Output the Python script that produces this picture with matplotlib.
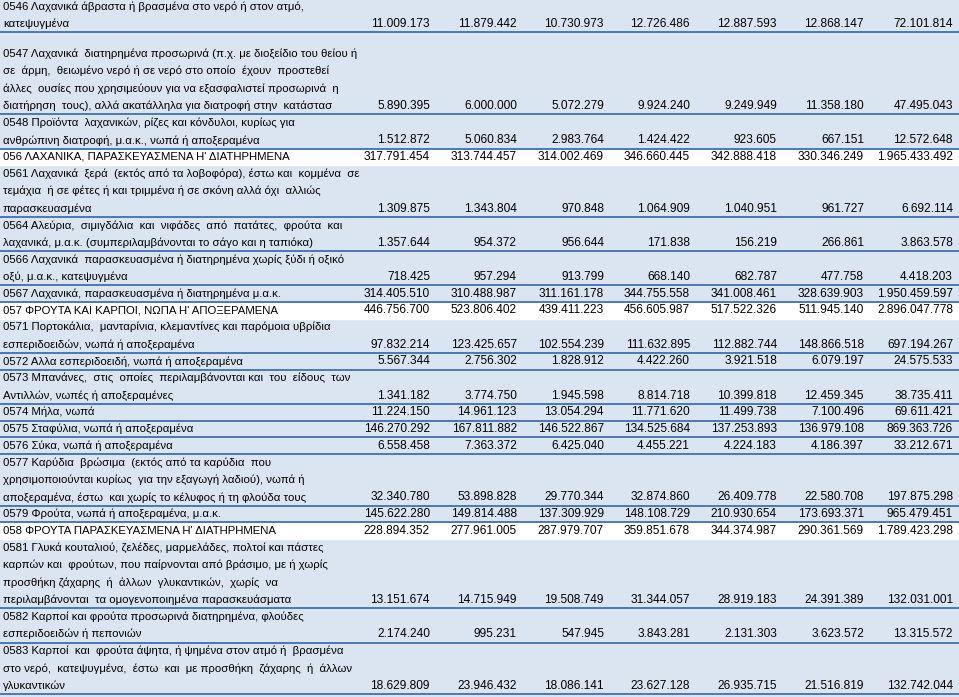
import matplotlib.pyplot as plt

# row labels (one string per row, lines split with \n)
labels = [
    "0546 Λαχανικά άβραστα ή βρασμένα στο νερό ή στον ατμό,\nκατεψυγμένα",
    "0547 Λαχανικά  διατηρημένα προσωρινά (π.χ. με διοξείδιο του θείου ή\n"
    "σε  άρμη,  θειωμένο νερό ή σε νερό στο οποίο  έχουν  προστεθεί\n"
    "άλλες  ουσίες που χρησιμεύουν για να εξασφαλιστεί προσωρινά  η\n"
    "διατήρηση  τους), αλλά ακατάλληλα για διατροφή στην  κατάστασ",
    "0548 Προϊόντα  λαχανικών, ρίζες και κόνδυλοι, κυρίως για\n"
    "ανθρώπινη διατροφή, μ.α.κ., νωπά ή αποξεραμένα",
    "056 ΛΑΧΑΝΙΚΑ, ΠΑΡΑΣΚΕΥΑΣΜΕΝΑ Η' ΔΙΑΤΗΡΗΜΕΝΑ",
    "0561 Λαχανικά  ξερά  (εκτός από τα λοβοφόρα), έστω και  κομμένα  σε\n"
    "τεμάχια  ή σε φέτες ή και τριμμένα ή σε σκόνη αλλά όχι  αλλιώς\n"
    "παρασκευασμένα",
    "0564 Αλεύρια,  σιμιγδάλια  και  νιφάδες  από  πατάτες,  φρούτα  και\n"
    "λαχανικά, μ.α.κ. (συμπεριλαμβάνονται το σάγο και η ταπιόκα)",
    "0566 Λαχανικά  παρασκευασμένα ή διατηρημένα χωρίς ξύδι ή οξικό\n"
    "οξύ, μ.α.κ., κατεψυγμένα",
    "0567 Λαχανικά, παρασκευασμένα ή διατηρημένα μ.α.κ.",
    "057 ΦΡΟΥΤΑ ΚΑΙ ΚΑΡΠΟΙ, ΝΩΠΑ Η' ΑΠΟΞΕΡΑΜΕΝΑ",
    "0571 Πορτοκάλια,  μανταρίνια, κλεμαντίνες και παρόμοια υβρίδια\n"
    "εσπεριδοειδών, νωπά ή αποξεραμένα",
    "0572 Αλλα εσπεριδοειδή, νωπά ή αποξεραμένα",
    "0573 Μπανάνες,  στις  οποίες  περιλαμβάνονται και  του  είδους  των\n"
    "Αντιλλών, νωπές ή αποξεραμένες",
    "0574 Μήλα, νωπά",
    "0575 Σταφύλια, νωπά ή αποξεραμένα",
    "0576 Σύκα, νωπά ή αποξεραμένα",
    "0577 Καρύδια  βρώσιμα  (εκτός από τα καρύδια  που\n"
    "χρησιμοποιούνται κυρίως  για την εξαγωγή λαδιού), νωπά ή\n"
    "αποξεραμένα, έστω  και χωρίς το κέλυφος ή τη φλούδα τους",
    "0579 Φρούτα, νωπά ή αποξεραμένα, μ.α.κ.",
    "058 ΦΡΟΥΤΑ ΠΑΡΑΣΚΕΥΑΣΜΕΝΑ Η' ΔΙΑΤΗΡΗΜΕΝΑ",
    "0581 Γλυκά κουταλιού, ζελέδες, μαρμελάδες, πολτοί και πάστες\n"
    "καρπών και  φρούτων, που παίρνονται από βράσιμο, με ή χωρίς\n"
    "προσθήκη ζάχαρης  ή  άλλων  γλυκαντικών,  χωρίς  να\n"
    "περιλαμβάνονται  τα ομογενοποιημένα παρασκευάσματα",
    "0582 Καρποί και φρούτα προσωρινά διατηρημένα, φλούδες\n"
    "εσπεριδοειδών ή πεπονιών",
    "0583 Καρποί  και  φρούτα άψητα, ή ψημένα στον ατμό ή  βρασμένα\n"
    "στο νερό,  κατεψυγμένα,  έστω  και  με προσθήκη  ζάχαρης  ή  άλλων\n"
    "γλυκαντικών",
]

# group (2-digit) rows get a white background
groups = ["056", "057", "058"]

y1 = [11009173, 5890395, 1512872, 317791454, 1309875, 1357644, 718425, 314405510,
      446756700, 97832214, 5567344, 1341182, 11224150, 146270292, 6558458, 32340780,
      145622280, 228894352, 13151674, 2174240, 18629809]
y2 = [11879442, 6000000, 5060834, 313744457, 1343804, 954372, 957294, 310488987,
      523806402, 123425657, 2756302, 3774750, 14961123, 167811882, 7363372, 53898828,
      149814488, 277961005, 14715949, 995231, 23946432]
y3 = [10730973, 5072279, 2983764, 314002469, 970848, 956644, 913799, 311161178,
      439411223, 102554239, 1828912, 1945598, 13054294, 146522867, 6425040, 29770344,
      137309929, 287979707, 19508749, 547945, 18086141]
y4 = [12726486, 9924240, 1424422, 346660445, 1064909, 171838, 668140, 344755558,
      456605987, 111632895, 4422260, 8814718, 11771620, 134525684, 4455221, 32874860,
      148108729, 359851678, 31344057, 3843281, 23627128]
y5 = [12887593, 9249949, 923605, 342888418, 1040951, 156219, 682787, 341008461,
      517522326, 112882744, 3921518, 10399818, 11499738, 137253893, 4224183, 26409778,
      210930654, 344374987, 28919183, 2131303, 26935715]
y6 = [12868147, 11358180, 667151, 330346249, 961727, 266861, 477758, 328639903,
      511945140, 148866518, 6079197, 12459345, 7100496, 136979108, 4186397, 22580708,
      173693371, 290361569, 24391389, 3623572, 21516819]
total = [72101814, 47495043, 12572648, 1965433492, 6692114, 3863578, 4418203, 1950459597,
         2896047778, 697194267, 24575533, 38735411, 69611421, 869363726, 33212671, 197875298,
         965479451, 1789423298, 132031001, 13315572, 132742044]

columns = [y1, y2, y3, y4, y5, y6, total]
col_right = [430, 517, 604, 690, 777, 864, 953]

BG = '#dbe5f1'
LINE = '#4a78b8'
FS_LAB = 8.2
FS_NUM = 8.6
LINE_H = 17.5
PAD = 16.7

fig = plt.figure(figsize=(9.59, 6.97), dpi=100)
fig.patch.set_facecolor(BG)
ax = fig.add_axes([0, 0, 1, 1])
ax.set_facecolor(BG)
ax.set_xlim(0, 959)
ax.set_ylim(697, 0)
ax.axis('off')


def fmt(v):
    return f"{v:,}".replace(',', '.')


y = -2
for i, lab in enumerate(labels):
    lines = lab.split('\n')
    h = PAD + LINE_H * (len(lines) - 1)
    is_group = lab.split(' ')[0] in groups
    if is_group:
        ax.axhspan(y, y + h, color='white', zorder=0)
    for k, ln in enumerate(lines):
        ax.text(3, y + PAD / 2 + k * LINE_H, ln, fontsize=FS_LAB, family='Liberation Sans',
                va='center', ha='left', color='black')
    yv = y + PAD / 2 + (len(lines) - 1) * LINE_H
    for col, xr in zip(columns, col_right):
        ax.text(xr, yv, fmt(col[i]), fontsize=FS_NUM, family='Liberation Sans',
                va='center', ha='right', color='black')
    y += h
    if not is_group:
        ax.plot([0, 959], [y, y], color=LINE, lw=1.4, zorder=1)
    if i == 0:
        y += 13  # empty spacer row

fig.savefig('out.png', dpi=100, facecolor=BG)
